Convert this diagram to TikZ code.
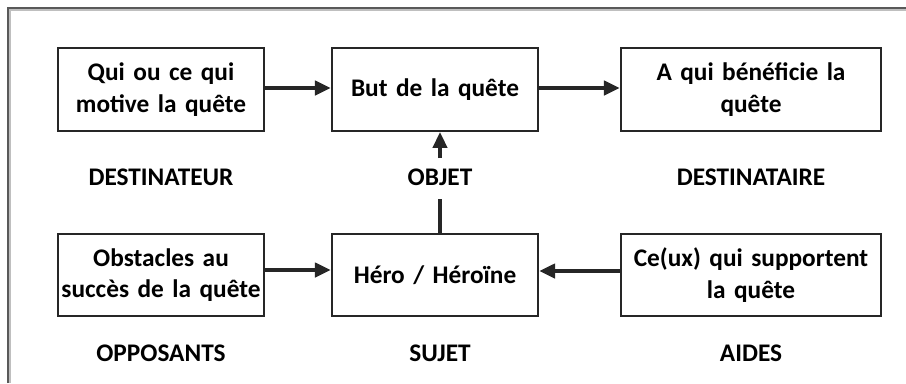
\documentclass[tikz,border=0pt]{standalone}
\usepackage{fontspec}
\setmainfont{Carlito}
\usetikzlibrary{arrows.meta}
\begin{document}
\begin{tikzpicture}[x=0.75pt,y=-0.75pt,
  box/.style={draw=black!85, line width=1.6pt, minimum width=154.5pt, minimum height=62pt, inner sep=1pt, align=center, text width=152pt, font=\fontsize{19}{23.5}\selectfont\bfseries},
  lab/.style={font=\fontsize{19}{22}\selectfont\bfseries},
  conn/.style={line width=3pt, draw=black!85},
  arr/.style={conn, -{Triangle[length=12pt,width=10.5pt]}},
  frame/.style={draw=black!65, line width=1.3pt}]
\useasboundingbox (0,0) rectangle (906,383);
\fill[white] (0,0) rectangle (906,383);
\draw[frame] (8,383) -- (8,8) -- (906,8);
\draw[black!25, line width=0.8pt] (10,383) -- (10,10) -- (906,10);
% top row
\node[box] (dest) at (161,89.5) {Qui ou ce qui\\motive la quête};
\node[box] (but) at (435,89.5) {But de la quête};
\node[box, minimum width=195pt, text width=192pt] (benef) at (751,89.5) {A qui bénéficie la\\quête};
% bottom row
\node[box] (obst) at (161,275) {Obstacles au\\succès de la quête};
\node[box] (hero) at (435,275) {Héro / Héroïne};
\node[box, minimum width=195pt, text width=192pt] (aide) at (751,275) {Ce(ux) qui supportent\\la quête};
% labels
\node[lab] (l1) at (161,177) {DESTINATEUR};
\node[lab] (l2) at (440,177) {OBJET};
\node[lab] (l3) at (751,177) {DESTINATAIRE};
\node[lab] (l4) at (161,353) {OPPOSANTS};
\node[lab] (l5) at (440,353) {SUJET};
\node[lab] (l6) at (751,353) {AIDES};
% connectors
\draw[arr] (dest.east |- 0,88) -- (but.west |- 0,88);
\draw[arr] (but.east |- 0,88) -- (benef.west |- 0,88);
\draw[arr] (obst.east |- 0,270) -- (hero.west |- 0,270);
\draw[arr] (aide.west |- 0,271) -- (hero.east |- 0,271);
\coordinate (vlow) at (440,199);
\coordinate (vhigh) at (440,158);
\draw[conn] (hero.north -| vlow) -- (vlow);
\draw[arr] (vhigh) -- (but.south -| vhigh);
\end{tikzpicture}
\end{document}
